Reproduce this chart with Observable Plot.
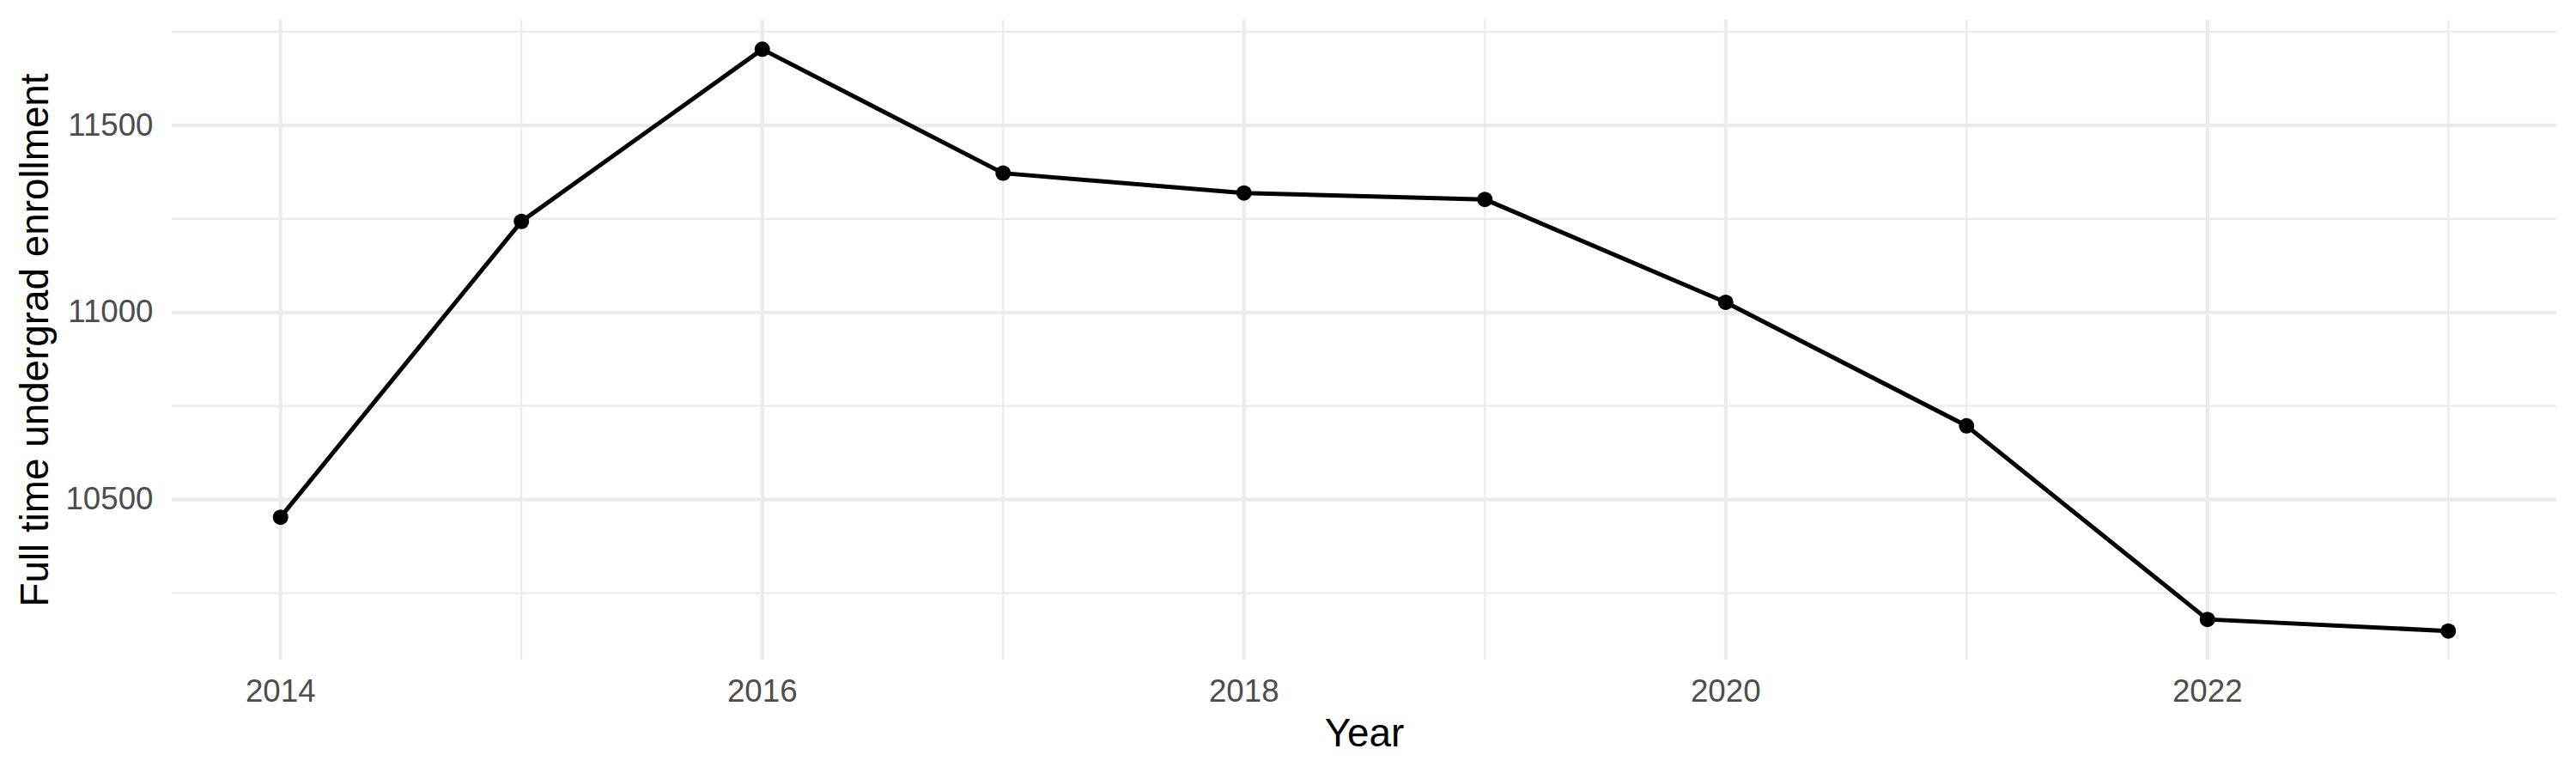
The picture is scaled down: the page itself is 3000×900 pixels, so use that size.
<!DOCTYPE html>
<html>
<head>
<meta charset="utf-8">
<script src="https://cdn.jsdelivr.net/npm/d3@7"></script>
<script src="https://cdn.jsdelivr.net/npm/@observablehq/plot@0.6"></script>
<style>
  html, body { margin: 0; padding: 0; background: #ffffff; }
  #chart svg { display: block; }
</style>
</head>
<body>
<div id="chart"></div>
<script>
const years = [2014, 2015, 2016, 2017, 2018, 2019, 2020, 2021, 2022, 2023];
const enrollment = [10453, 11243, 11703, 11372, 11319, 11302, 11027, 10697, 10180, 10149];

const xMajorTicks = [2014, 2016, 2018, 2020, 2022];
const xMinorTicks = [2015, 2017, 2019, 2021, 2023];
const yMajorTicks = [10500, 11000, 11500];
const yMinorTicks = [10250, 10750, 11250, 11750];

const xTitle = "Year";
const yTitle = "Full time undergrad enrollment";

const data = years.map((year, i) => ({year, value: enrollment[i]}));

function expand(lo, hi) {
  const pad = (hi - lo) * 0.05;
  return [lo - pad, hi + pad];
}
const xDomain = expand(d3.min(years), d3.max(years));
const yDomain = expand(d3.min(enrollment), d3.max(enrollment));

const gridColor = "#EBEBEB";
const tickColor = "#4D4D4D";
const tickFont = 36.7;
const titleFont = 45.8;

const chart = Plot.plot({
  width: 3000,
  height: 900,
  marginLeft: 200,
  marginRight: 23,
  marginTop: 23,
  marginBottom: 132,
  style: {
    fontFamily: "'Liberation Sans', Arial, Helvetica, sans-serif",
    background: "#ffffff"
  },
  x: {domain: xDomain, label: null},
  y: {domain: yDomain, label: null},
  marks: [
    Plot.ruleY(yMinorTicks, {stroke: gridColor, strokeWidth: 2.2}),
    Plot.ruleX(xMinorTicks, {stroke: gridColor, strokeWidth: 2.2}),
    Plot.ruleY(yMajorTicks, {stroke: gridColor, strokeWidth: 4.2}),
    Plot.ruleX(xMajorTicks, {stroke: gridColor, strokeWidth: 4.2}),
    Plot.axisX(xMajorTicks, {
      tickSize: 0, tickPadding: 22, fontSize: tickFont, fill: tickColor,
      tickFormat: d => String(d), label: null
    }),
    Plot.axisY(yMajorTicks, {
      tickSize: 0, tickPadding: 22, fontSize: tickFont, fill: tickColor,
      tickFormat: d => String(d), label: null
    }),
    Plot.line(data, {x: "year", y: "value", stroke: "#000000", strokeWidth: 5}),
    Plot.dot(data, {x: "year", y: "value", r: 9, fill: "#000000", stroke: "none"}),
    Plot.text([xTitle], {
      frameAnchor: "bottom", lineAnchor: "bottom", textAnchor: "middle", dy: 100,
      fontSize: titleFont, fill: "#000000", text: d => d
    }),
    Plot.text([yTitle], {
      frameAnchor: "left", lineAnchor: "bottom", textAnchor: "middle", rotate: -90, dx: -145,
      fontSize: titleFont, fill: "#000000", text: d => d
    })
  ]
});

document.getElementById("chart").append(chart);
</script>
</body>
</html>
